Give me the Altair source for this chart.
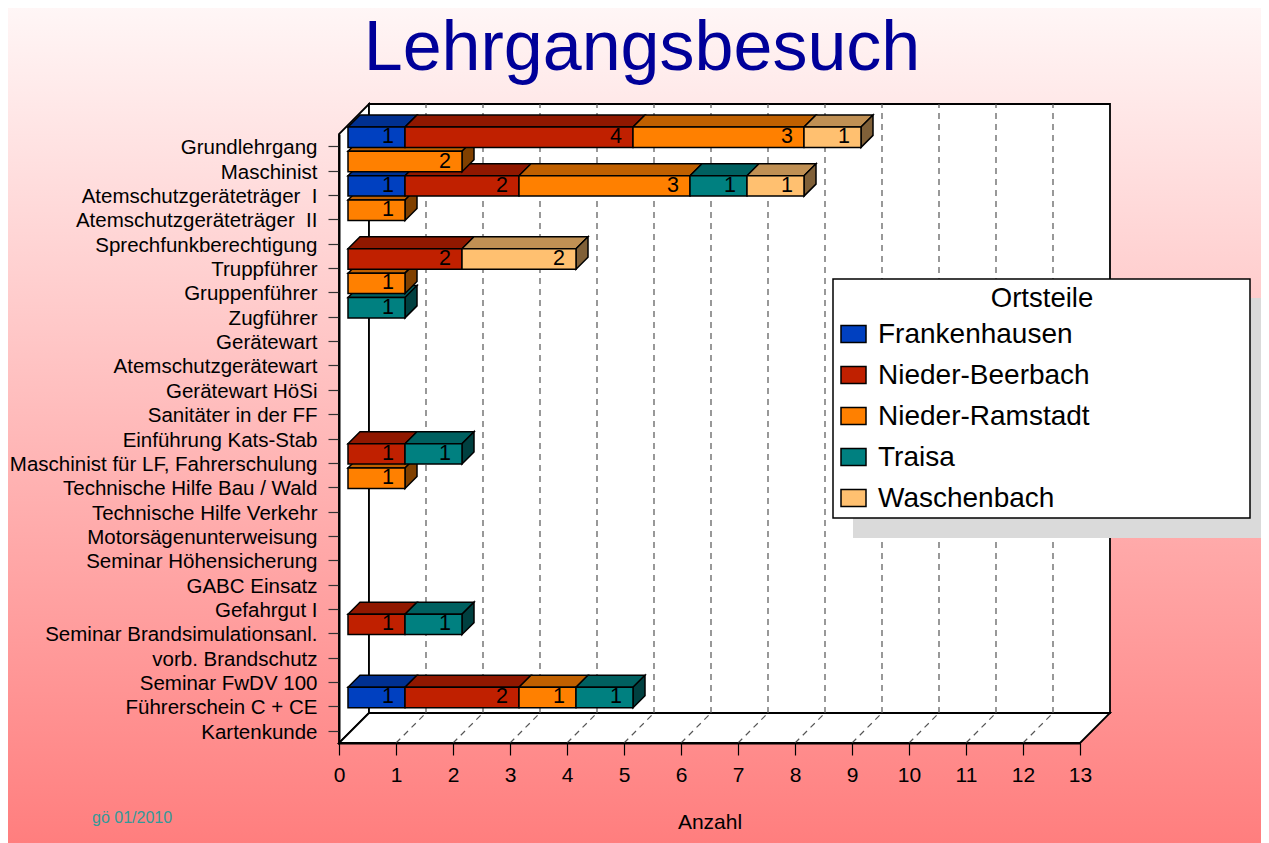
import json
import altair as alt
import pandas as pd

# ---------------- data ----------------
categories = [
    "Grundlehrgang", "Maschinist", "Atemschutzgeräteträger\u00a0 I", "Atemschutzgeräteträger\u00a0 II",
    "Sprechfunkberechtigung", "Truppführer", "Gruppenführer", "Zugführer", "Gerätewart",
    "Atemschutzgerätewart", "Gerätewart HöSi", "Sanitäter in der FF", "Einführung Kats-Stab",
    "Maschinist für LF, Fahrerschulung", "Technische Hilfe Bau / Wald", "Technische Hilfe Verkehr",
    "Motorsägenunterweisung", "Seminar Höhensicherung", "GABC Einsatz", "Gefahrgut I",
    "Seminar Brandsimulationsanl.", "vorb. Brandschutz", "Seminar FwDV 100",
    "Führerschein C + CE", "Kartenkunde",
]
series_names = ["Frankenhausen", "Nieder-Beerbach", "Nieder-Ramstadt", "Traisa", "Waschenbach"]
frankenhausen   = [1, 0, 1, 0, 0, 0, 0, 0, 0, 0, 0, 0, 0, 0, 0, 0, 0, 0, 0, 0, 0, 0, 0, 1, 0]
nieder_beerbach = [4, 0, 2, 0, 0, 2, 0, 0, 0, 0, 0, 0, 0, 1, 0, 0, 0, 0, 0, 0, 1, 0, 0, 2, 0]
nieder_ramstadt = [3, 2, 3, 1, 0, 0, 1, 0, 0, 0, 0, 0, 0, 0, 1, 0, 0, 0, 0, 0, 0, 0, 0, 1, 0]
traisa          = [0, 0, 1, 0, 0, 0, 0, 1, 0, 0, 0, 0, 0, 1, 0, 0, 0, 0, 0, 0, 1, 0, 0, 1, 0]
waschenbach     = [1, 0, 1, 0, 0, 2, 0, 0, 0, 0, 0, 0, 0, 0, 0, 0, 0, 0, 0, 0, 0, 0, 0, 0, 0]
x_ticks = list(range(14))

front_colors = ["#0040c0", "#c02000", "#ff8000", "#008080", "#ffc070"]
top_colors = ["#003090", "#901800", "#c06000", "#006060", "#c09054"]
side_colors = ["#002060", "#601000", "#804000", "#004040", "#806038"]

series_values = [frankenhausen, nieder_beerbach, nieder_ramstadt, traisa, waschenbach]

# ---------------- geometry ----------------
W, H = 741, 609
PAD_L, PAD_T = 331, 126
TOTAL_W, TOTAL_H = 1253, 835
XMAX = x_ticks[-1]
NCAT = len(categories)
UX = W / XMAX
UY = H / NCAT
FONT = "Liberation Sans"

WALL = 30          # depth of the pseudo-3D box (px)
BAR_NEAR = 9       # bar front plane depth (px)
BAR_FAR = 21       # bar back plane depth (px)
BAR_HALF = 10.2    # half height of a bar front face (px)

dXw, dYw = WALL / UX, WALL / UY
bx0, by0 = BAR_NEAR / UX, BAR_NEAR / UY
bdx, bdy = (BAR_FAR - BAR_NEAR) / UX, (BAR_FAR - BAR_NEAR) / UY
bh = BAR_HALF / UY

front, tops, sides = [], [], []
for i, cat in enumerate(categories):
    yc = NCAT - 0.5 - i + by0
    yb, yt = yc - bh, yc + bh
    start = 0
    nz = [k for k in range(len(series_names)) if series_values[k][i] > 0]
    for k in nz:
        v = series_values[k][i]
        x0, x1 = start + bx0, start + v + bx0
        front.append(dict(cat=cat, series=series_names[k], value=str(v), x0=x0, x1=x1,
                          y0=yb, y1=yt, yc=yc, fill=front_colors[k]))
        pid = f"{i}-{k}"
        for xx, ya, yb2 in [(x0, yt, yt), (x0 + bdx, yt, yt + bdy),
                            (x1, yt, yt + bdy), (x1 + bdx, yt + bdy, yt + bdy)]:
            tops.append(dict(pid=pid, x=xx, y=ya, y2=yb2, fill=top_colors[k]))
        if k == nz[-1]:
            for xx, ya, yb2 in [(x1, yb, yt), (x1 + bdx, yb + bdy, yt + bdy)]:
                sides.append(dict(pid=pid, x=xx, y=ya, y2=yb2, fill=side_colors[k]))
        start += v

front_df = pd.DataFrame(front)
tops_df = pd.DataFrame(tops)
sides_df = pd.DataFrame(sides)

xs = alt.Scale(domain=[0, XMAX], nice=False, zero=False)
ys = alt.Scale(domain=[0, NCAT], nice=False, zero=False)

label_expr = f"{json.dumps(categories, ensure_ascii=False)}[round({NCAT - 0.5} - datum.value)]"

xaxis = alt.Axis(values=x_ticks, format="d", title="Anzahl", grid=False, zindex=1,
                 domainColor="black", domainWidth=2, tickColor="black", tickWidth=1.2,
                 tickSize=12, labelFontSize=21, labelFont=FONT, labelColor="black",
                 labelPadding=9, labelFlush=False, labelOverlap=False,
                 titleFont=FONT, titleFontSize=21, titleFontWeight="normal",
                 titleColor="black", titlePadding=26)
yaxis = alt.Axis(values=[NCAT - 0.5 - i for i in range(NCAT)], labelExpr=label_expr,
                 title=None, grid=False, zindex=1, domainColor="black", domainWidth=2,
                 tickColor="#333333", tickWidth=1.2, tickSize=11, labelFontSize=20.5,
                 labelFont=FONT, labelColor="black", labelPadding=11, labelOffset=1.5,
                 labelOverlap=False, labelLimit=600)


def X(f):
    return alt.X(f, type="quantitative", scale=xs, axis=xaxis)


def Y(f):
    return alt.Y(f, type="quantitative", scale=ys, axis=yaxis, stack=None)


one = pd.DataFrame({"k": [0]})
RIGHT_EDGE = TOTAL_W - PAD_L
BOTTOM_EDGE = TOTAL_H - PAD_T

# background gradient
bg = alt.Chart(one).mark_rect(
    fill=alt.LinearGradient(gradient="linear", x1=0, x2=0, y1=0, y2=1,
                            stops=[alt.GradientStop(color="#fff6f6", offset=0),
                                   alt.GradientStop(color="#ff7e7e", offset=1)])
).encode(x=alt.value(-PAD_L), x2=alt.value(RIGHT_EDGE), y=alt.value(-PAD_T), y2=alt.value(BOTTOM_EDGE))

# walls
left_wall = alt.Chart(pd.DataFrame([dict(x=0, y=0, y2=NCAT), dict(x=dXw, y=dYw, y2=NCAT + dYw)])).mark_area(
    fill="white", stroke="black", strokeWidth=1.8, orient="vertical"
).encode(x=X("x"), y=Y("y"), y2="y2")

floor = alt.Chart(pd.DataFrame([dict(x=0, y=0, y2=0), dict(x=dXw, y=0, y2=dYw),
                                dict(x=XMAX, y=0, y2=dYw), dict(x=XMAX + dXw, y=dYw, y2=dYw)])).mark_area(
    fill="white", stroke="black", strokeWidth=1.8, orient="vertical"
).encode(x=X("x"), y=Y("y"), y2="y2")

back_wall = alt.Chart(pd.DataFrame([dict(x=dXw, x2=XMAX + dXw, y=dYw, y2=NCAT + dYw)])).mark_rect(
    fill="white", stroke="black", strokeWidth=1.8
).encode(x=X("x"), x2="x2", y=Y("y"), y2="y2")

inner = x_ticks[1:-1]
back_grid = alt.Chart(pd.DataFrame([dict(x=t + dXw, y=dYw, y2=NCAT + dYw) for t in inner])).mark_rule(
    color="#555555", strokeWidth=1.2, strokeDash=[6, 5]
).encode(x=X("x"), y=Y("y"), y2="y2")

floor_grid = alt.Chart(pd.DataFrame([dict(x=t, x2=t + dXw, y=0, y2=dYw) for t in inner])).mark_rule(
    color="#555555", strokeWidth=1.2, strokeDash=[6, 5]
).encode(x=X("x"), x2="x2", y=Y("y"), y2="y2")

# bars
top_faces = alt.Chart(tops_df).mark_area(stroke="black", strokeWidth=1.5, orient="vertical").encode(
    x=X("x"), y=Y("y"), y2="y2", detail="pid:N", color=alt.Color("fill:N", scale=None))
side_faces = alt.Chart(sides_df).mark_area(stroke="black", strokeWidth=1.5, orient="vertical").encode(
    x=X("x"), y=Y("y"), y2="y2", detail="pid:N", color=alt.Color("fill:N", scale=None))
front_faces = alt.Chart(front_df).mark_rect(stroke="black", strokeWidth=1.5).encode(
    x=X("x0"), x2="x1", y=Y("y0"), y2="y1", color=alt.Color("fill:N", scale=None))
value_labels = alt.Chart(front_df).mark_text(
    align="right", baseline="middle", dx=-11, font=FONT, fontSize=21.5, color="black"
).encode(x=X("x1"), y=Y("yc"), text="value:N")

# legend (manual, with shadow)
LX0, LX1, LY0, LY1 = 494, 911, 145, 384
leg_shadow = alt.Chart(one).mark_rect(fill="#dadada").encode(
    x=alt.value(LX0 + 20), x2=alt.value(RIGHT_EDGE), y=alt.value(LY0 + 19), y2=alt.value(LY1 + 20))
leg_box = alt.Chart(one).mark_rect(fill="white", stroke="black", strokeWidth=1.5).encode(
    x=alt.value(LX0), x2=alt.value(LX1), y=alt.value(LY0), y2=alt.value(LY1))
leg_title = alt.Chart(one).mark_text(
    text="Ortsteile", font=FONT, fontSize=27.5, align="center", baseline="middle", color="black"
).encode(x=alt.value(703), y=alt.value(165))

ROW0, STEP, SW = 200, 41, 8.4
leg_rows = []
for k, name in enumerate(series_names):
    cy = ROW0 + k * STEP
    leg_rows.append(dict(name=name, fill=front_colors[k], yc=NCAT - (cy + 1) / UY,
                         y0=NCAT - (cy - SW) / UY, y1=NCAT - (cy + SW) / UY))
leg_df = pd.DataFrame(leg_rows)
leg_sw = alt.Chart(leg_df).mark_rect(stroke="black", strokeWidth=1.5).encode(
    x=alt.value(502), x2=alt.value(527), y=Y("y0"), y2="y1", color=alt.Color("fill:N", scale=None))
leg_txt = alt.Chart(leg_df).mark_text(
    align="left", baseline="middle", font=FONT, fontSize=28, color="black"
).encode(x=alt.value(539), y=Y("yc"), text="name:N")

# title + footnote
title = alt.Chart(one).mark_text(
    text="Lehrgangsbesuch", font=FONT, fontSize=70, align="center", baseline="alphabetic", color="#000099"
).encode(x=alt.value(303), y=alt.value(-64))
foot = alt.Chart(one).mark_text(
    text="gö 01/2010", font=FONT, fontSize=16, align="left", baseline="middle", color="#339999"
).encode(x=alt.value(-247), y=alt.value(684))

chart = alt.layer(
    bg, left_wall, floor, back_wall, back_grid, floor_grid,
    top_faces, side_faces, front_faces, value_labels,
    leg_shadow, leg_box, leg_title, leg_sw, leg_txt, title, foot,
).properties(
    width=W, height=H,
    autosize=alt.AutoSizeParams(type="none"),
    padding={"left": PAD_L, "top": PAD_T, "right": TOTAL_W - PAD_L - W, "bottom": TOTAL_H - PAD_T - H},
).configure_view(strokeWidth=0)

chart.save("out.html", embed_options={"renderer": "svg", "actions": False})
